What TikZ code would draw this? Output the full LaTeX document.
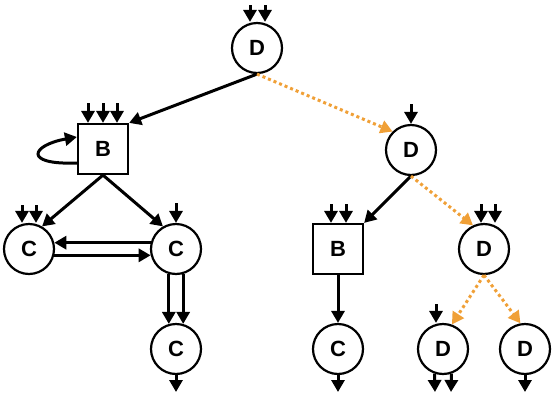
\documentclass[tikz,border=0pt]{standalone}
\usepackage{fontspec}
\setmainfont{Liberation Sans}
\usetikzlibrary{arrows.meta}
\definecolor{orng}{RGB}{240,160,55}
\newcommand{\bigf}{\fontsize{22}{26}\selectfont}
\begin{document}
\begin{tikzpicture}[x=1pt,y=-1pt,
  circ/.style={circle,draw,line width=2.2pt,minimum size=50pt,inner sep=0pt,font=\bigf\bfseries},
  sq/.style={rectangle,draw,line width=2.2pt,minimum size=50pt,inner sep=0pt,font=\bigf\bfseries},
  arr/.style={line width=3pt,-{Triangle[length=12pt,width=13pt]}},
  oarr/.style={orng,line width=3pt,dash pattern=on 3pt off 3pt,-{Triangle[length=12pt,width=13pt]}}]
\path[use as bounding box] (0,0) rectangle (555,400);
\node[circ] (D1) at (257,48) {D};
\node[sq]   (B1) at (103,149) {B};
\node[circ] (D2) at (411,150) {D};
\node[circ] (C1) at (29,249) {C};
\node[circ] (C2) at (176,249) {C};
\node[circ] (C3) at (176,349) {C};
\node[sq]   (B2) at (338,249) {B};
\node[circ] (D3) at (484,249) {D};
\node[circ] (C4) at (338,349) {C};
\node[circ] (D4) at (443,349) {D};
\node[circ] (D5) at (525,349) {D};
% inputs
\foreach \n/\x/\y/\t in {a/250/5/D1, b/265/5/D1, c/88/103/B1, d/103/103/B1, e/117/103/B1,
  f/411/104/D2, g/22/205/C1, h/36/205/C1, i/176/203/C2, j/331/204/B2, k/346/204/B2,
  l/481/204/D3, m/495/204/D3, n/436/304/D4}{
  \coordinate (in\n) at (\x,\y);
  \draw[arr] (in\n) -- (in\n |- \t.north);
}
% outputs
\coordinate (o1) at (176,392);
\coordinate (o2) at (338,392);
\coordinate (o3) at (435,392);
\coordinate (o4) at (451,392);
\coordinate (o5) at (525,392);
\draw[arr] (C3.south) -- (o1);
\draw[arr] (C4.south) -- (o2);
\draw[arr] (D4.-109) -- (o3);
\draw[arr] (D4.-71) -- (o4);
\draw[arr] (D5.south) -- (o5);
% edges
\draw[arr] (D1.south) -- (B1.north east);
\draw[oarr] (D1.south) -- (D2.north west);
\draw[arr] (B1.south) -- (C1.60);
\draw[arr] (B1.south) -- (C2.120);
\draw[arr] (C2.166) -- (C1.14);
\draw[arr] (C1.-14) -- (C2.194);
\draw[arr] (C2.-106) -- (C3.106);
\draw[arr] (C2.-74) -- (C3.74);
\draw[arr] (D2.south) -- (B2.north east);
\draw[oarr] (D2.south) -- (D3.115);
\draw[oarr] (D3.south) -- (D4.70);
\draw[oarr] (D3.south) -- (D5.100);
\draw[arr] (B2.south) -- (C4.north);
% self loop
\draw[arr] ([yshift=-14pt]B1.west) .. controls +(-55,2) and +(-45,8) .. ([yshift=12pt]B1.west);
\end{tikzpicture}
\end{document}
